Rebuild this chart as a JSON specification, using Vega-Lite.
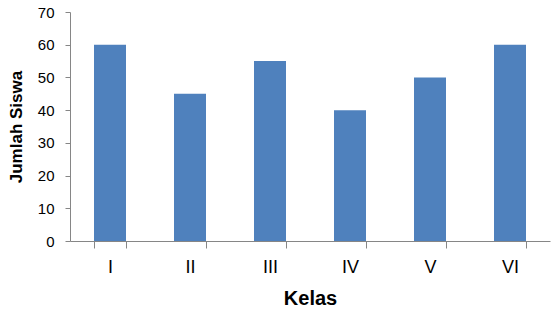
{
  "$schema": "https://vega.github.io/schema/vega-lite/v6.json",
  "width": 480,
  "height": 229,
  "autosize": "none",
  "padding": {"left": 70, "top": 12, "right": 9, "bottom": 79},
  "background": "white",
  "config": {"view": {"stroke": null}, "font": "Liberation Sans"},
  "data": {"values": [
    {"Kelas": "I", "Jumlah": 60},
    {"Kelas": "II", "Jumlah": 45},
    {"Kelas": "III", "Jumlah": 55},
    {"Kelas": "IV", "Jumlah": 40},
    {"Kelas": "V", "Jumlah": 50},
    {"Kelas": "VI", "Jumlah": 60}
  ]},
  "mark": {"type": "bar", "color": "#4F81BD"},
  "encoding": {
    "x": {
      "field": "Kelas", "type": "nominal", "sort": null,
      "scale": {"paddingInner": 0.6, "paddingOuter": 0.3},
      "axis": {
        "title": "Kelas", "titleFontSize": 20, "titleFontWeight": "bold", "titleColor": "#000000", "titlePadding": 12,
        "labelAngle": 0, "labelFontSize": 18, "labelColor": "#000000", "labelPadding": 10,
        "domainColor": "#868686", "tickColor": "#868686", "tickSize": 7, "tickBand": "extent",
        "grid": false
      }
    },
    "y": {
      "field": "Jumlah", "type": "quantitative",
      "scale": {"domain": [0, 70], "nice": false},
      "axis": {
        "title": "Jumlah Siswa", "titleFontSize": 17, "titleFontWeight": "bold", "titleColor": "#000000", "titlePadding": 12,
        "values": [0, 10, 20, 30, 40, 50, 60, 70],
        "labelFontSize": 15, "labelColor": "#000000", "labelPadding": 11,
        "domainColor": "#868686", "tickColor": "#868686", "tickSize": 5,
        "grid": false
      }
    }
  }
}
